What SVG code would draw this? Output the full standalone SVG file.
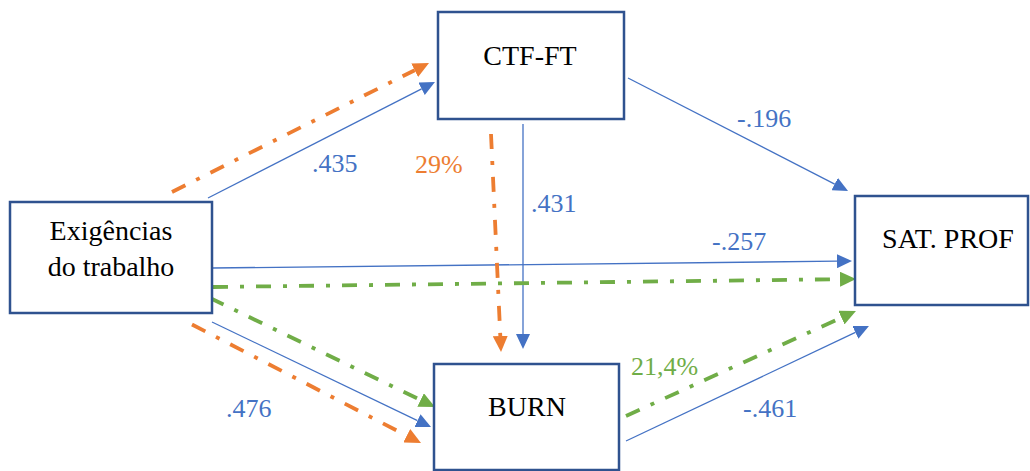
<svg xmlns="http://www.w3.org/2000/svg" width="1030" height="471" viewBox="0 0 1030 471">
  <style>
    .box { fill: #ffffff; stroke: #2F528F; stroke-width: 2.5; }
    .bt { font-family: Liberation Serif, DejaVu Serif, Times New Roman, serif; font-size: 28px; fill: #000000; text-anchor: middle; }
    .lbl { font-family: Liberation Serif, DejaVu Serif, Times New Roman, serif; font-size: 26px; }
    .blue { stroke: #4472C4; stroke-width: 1.3; fill: none; marker-end: url(#ab); }
    .orange { stroke: #ED7D31; stroke-width: 3.8; fill: none; stroke-dasharray: 15 12 4 12; marker-end: url(#ao); }
    .green { stroke: #70AD47; stroke-width: 3.8; fill: none; stroke-dasharray: 15 12 4 12; marker-end: url(#ag); }
  </style>
  <defs>
    <marker id="ab" markerUnits="userSpaceOnUse" markerWidth="15" markerHeight="14" refX="0" refY="7" orient="auto">
      <path d="M0,0 L15,7 L0,14 z" fill="#4472C4"/>
    </marker>
    <marker id="ao" markerUnits="userSpaceOnUse" markerWidth="16" markerHeight="15" refX="0" refY="7.5" orient="auto">
      <path d="M0,0 L16,7.5 L0,15 z" fill="#ED7D31"/>
    </marker>
    <marker id="ag" markerUnits="userSpaceOnUse" markerWidth="16" markerHeight="15" refX="0" refY="7.5" orient="auto">
      <path d="M0,0 L16,7.5 L0,15 z" fill="#70AD47"/>
    </marker>
  </defs>
  <rect width="1030" height="471" fill="#ffffff"/>

  <g id="connectors">
    <line class="blue" x1="208" y1="198" x2="421.6" y2="88.8"/>
    <line class="blue" x1="628" y1="78" x2="834.7" y2="184.1"/>
    <line class="blue" x1="523" y1="124" x2="523" y2="334"/>
    <line class="blue" x1="212" y1="268" x2="837" y2="261.2"/>
    <line class="blue" x1="212" y1="322" x2="417.5" y2="420.6"/>
    <line class="blue" x1="626" y1="441" x2="855.4" y2="332.4"/>

    <line class="orange" x1="172" y1="192" x2="414.7" y2="70.2"/>
    <line class="orange" x1="491" y1="134" x2="500.3" y2="336"/>
    <line class="orange" x1="192" y1="324.5" x2="406.8" y2="435.7"/>

    <line class="green" x1="213" y1="287" x2="840" y2="279.2"/>
    <line class="green" x1="210" y1="298" x2="420.6" y2="400"/>
    <line class="green" x1="626" y1="416" x2="841.4" y2="317.6"/>
  </g>

  <g id="labels">
    <text class="lbl" x="312" y="172" fill="#4472C4">.435</text>
    <text class="lbl" x="415" y="173" fill="#ED7D31">29%</text>
    <text class="lbl" x="531" y="212" fill="#4472C4">.431</text>
    <text class="lbl" x="737" y="127" fill="#4472C4">-.196</text>
    <text class="lbl" x="712" y="250" fill="#4472C4">-.257</text>
    <text class="lbl" x="631" y="375" fill="#70AD47">21,4%</text>
    <text class="lbl" x="226" y="417" fill="#4472C4">.476</text>
    <text class="lbl" x="743" y="417" fill="#4472C4">-.461</text>
  </g>

  <g id="node-ctf">
    <rect class="box" x="438" y="12" width="186" height="107"/>
    <text class="bt" x="530" y="65">CTF-FT</text>
  </g>
  <g id="node-exig">
    <rect class="box" x="10" y="202" width="202" height="111"/>
    <text class="bt" x="111" y="240">Exigências</text>
    <text class="bt" x="111" y="276">do trabalho</text>
  </g>
  <g id="node-burn">
    <rect class="box" x="434" y="364" width="185" height="106"/>
    <text class="bt" x="527" y="416">BURN</text>
  </g>
  <g id="node-sat">
    <rect class="box" x="855" y="196" width="173" height="109"/>
    <text class="bt" x="948" y="248">SAT. PROF</text>
  </g>
</svg>
